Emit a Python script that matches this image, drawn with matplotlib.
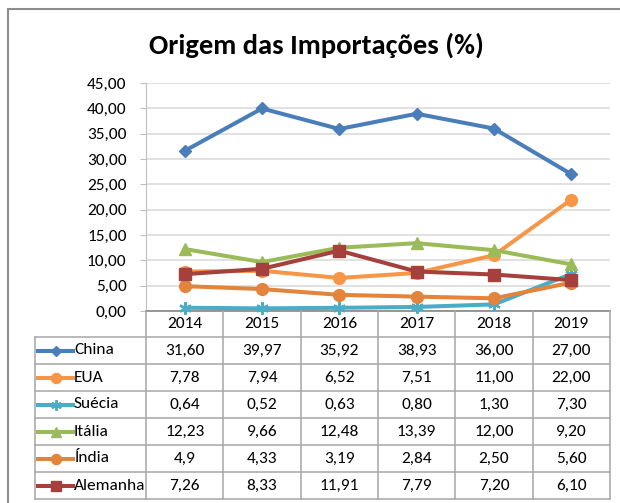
import matplotlib
matplotlib.use("Agg")
import matplotlib.pyplot as plt
from matplotlib import font_manager
from matplotlib.lines import Line2D
from matplotlib.patches import Rectangle

# ---------------- data ----------------
years = ["2014", "2015", "2016", "2017", "2018", "2019"]
series_names = ["China", "EUA", "Suécia", "Itália", "Índia", "Alemanha"]
china = ["31,60", "39,97", "35,92", "38,93", "36,00", "27,00"]
eua = ["7,78", "7,94", "6,52", "7,51", "11,00", "22,00"]
suecia = ["0,64", "0,52", "0,63", "0,80", "1,30", "7,30"]
italia = ["12,23", "9,66", "12,48", "13,39", "12,00", "9,20"]
india = ["4,9", "4,33", "3,19", "2,84", "2,50", "5,60"]
alemanha = ["7,26", "8,33", "11,91", "7,79", "7,20", "6,10"]
title = "Origem das Importações (%)"
y_ticks = [0, 5, 10, 15, 20, 25, 30, 35, 40, 45]

series_text = [china, eua, suecia, italia, india, alemanha]
series_vals = [[float(s.replace(",", ".")) for s in row] for row in series_text]

colors = ["#4A7EBB", "#F79646", "#4BACC6", "#9BBB59", "#E2843C", "#A5403D"]
markers = ["D", "o", (6, 2, 0), "^", "o", "s"]
msizes = [6.5, 8.5, 9, 8.5, 8.5, 8.5]

# ---------------- fonts ----------------
def pick_font(cands):
    for c in cands:
        try:
            font_manager.findfont(font_manager.FontProperties(family=c), fallback_to_default=False)
            return c
        except Exception:
            pass
    return "DejaVu Sans"

FONT = pick_font(["Carlito", "Liberation Sans Narrow", "Open Sans"])
plt.rcParams["font.family"] = [FONT, "DejaVu Sans"]

W, H = 620, 503
FS = 12.5
fig = plt.figure(figsize=(W / 100, H / 100), dpi=100)
fig.patch.set_facecolor("white")


def fx(x):
    return x / W


def fy(y):
    return 1 - y / H


# chart border
fig.add_artist(Rectangle((fx(8), fy(530)), fx(640) - fx(8), fy(9) - fy(530),
                         transform=fig.transFigure, fill=False,
                         edgecolor="#8C8C8C", linewidth=1.5, clip_on=False))

# title
fig.text(fx(316), fy(54), title, ha="center", va="baseline",
         fontsize=20.5, fontweight="bold", color="black")

# plot area
left, right, top, bottom = 146, 610, 83, 311
ax = fig.add_axes([fx(left), fy(bottom), fx(right) - fx(left), fy(top) - fy(bottom)])
ax.set_xlim(-0.5, len(years) - 0.5)
ax.set_ylim(0, 45)
ax.set_yticks(y_ticks)
ax.set_yticklabels([f"{v:.2f}".replace(".", ",") for v in y_ticks], fontsize=FS)
ax.set_xticks([])
ax.grid(axis="y", color="#D9D9D9", linewidth=1.1)
ax.set_axisbelow(True)
for s in ["top", "right"]:
    ax.spines[s].set_visible(False)
ax.spines["left"].set_color("#BFBFBF")
ax.spines["bottom"].set_color("#868686")
ax.spines["bottom"].set_linewidth(1.2)
ax.tick_params(axis="y", length=4, color="#BFBFBF", pad=10)

xs = list(range(len(years)))
for i, vals in enumerate(series_vals):
    ax.plot(xs, vals, color=colors[i], linewidth=2.9, marker=markers[i],
            markersize=msizes[i], markerfacecolor=colors[i],
            markeredgecolor=colors[i], markeredgewidth=1.6 if i == 2 else 1,
            clip_on=False, zorder=3 + i)

# ---------------- data table ----------------
tcol = "#A6A6A6"
tleft = 35
row_h = 27
header_top = bottom
first_row_top = 337
ncol = len(years)
col_w = (right - left) / ncol
table_bottom = first_row_top + row_h * len(series_names)


def hline(y, x0, x1):
    fig.add_artist(Line2D([fx(x0), fx(x1)], [fy(y), fy(y)], transform=fig.transFigure,
                          color=tcol, linewidth=1.1))


def vline(x, y0, y1):
    fig.add_artist(Line2D([fx(x), fx(x)], [fy(y0), fy(y1)], transform=fig.transFigure,
                          color=tcol, linewidth=1.1))


for r in range(len(series_names) + 1):
    hline(first_row_top + r * row_h, tleft, right)
vline(tleft, first_row_top, table_bottom)
for c in range(ncol + 1):
    vline(left + c * col_w, header_top, table_bottom)

for c, yr in enumerate(years):
    fig.text(fx(left + (c + 0.5) * col_w), fy(header_top + row_h / 2), yr,
             ha="center", va="center", fontsize=FS)

for r, name in enumerate(series_names):
    yc = first_row_top + (r + 0.5) * row_h
    fig.add_artist(Line2D([fx(38), fx(73)], [fy(yc), fy(yc)], transform=fig.transFigure,
                          color=colors[r], linewidth=2.9))
    fig.add_artist(Line2D([fx(55.5)], [fy(yc)], transform=fig.transFigure,
                          color=colors[r], marker=markers[r], markersize=msizes[r] * 0.85,
                          markerfacecolor=colors[r], markeredgecolor=colors[r],
                          markeredgewidth=1.4 if r == 2 else 1, linestyle="none"))
    fig.text(fx(74), fy(yc), name, ha="left", va="center", fontsize=FS)
    for c in range(ncol):
        fig.text(fx(left + (c + 0.5) * col_w), fy(yc), series_text[r][c],
                 ha="center", va="center", fontsize=FS)

fig.savefig("out.png", dpi=100, facecolor="white")
